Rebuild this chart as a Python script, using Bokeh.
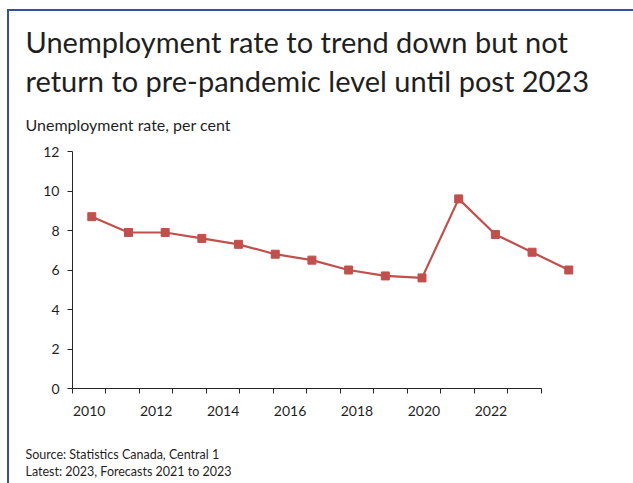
from bokeh.plotting import figure
from bokeh.models import Range1d, LinearAxis, FixedTicker, Title
from bokeh.embed import file_html
from bokeh.resources import INLINE

# Annual unemployment rate, per cent (2021-2023 are forecasts)
years = [2010, 2011, 2012, 2013, 2014, 2015, 2016, 2017, 2018, 2019, 2020, 2021, 2022, 2023]
rate = [8.7, 7.9, 7.9, 7.6, 7.3, 6.8, 6.5, 6.0, 5.7, 5.6, 9.6, 7.8, 6.9, 6.0]
tick_years = [2010, 2012, 2014, 2016, 2018, 2020, 2022]
y_ticks = [0, 2, 4, 6, 8, 10, 12]

title_lines = ["Unemployment rate to trend down but not",
               "return to pre-pandemic level until post 2023"]
y_title = "Unemployment rate, per cent"
notes = ["Source: Statistics Canada, Central 1",
         "Latest: 2023, Forecasts 2021 to 2023"]

FONT = "Lato"
TXT = "#1f1f1f"
RED = "#C0504D"
BLUE = "#2F5597"

W, H = 633, 483
FL, FR, FT, FB = 72, 600, 151, 388   # frame edges on the canvas

p = figure(width=W, height=H, output_backend="svg", toolbar_location=None,
           x_range=Range1d(2009.474, 2023.865), y_range=Range1d(0, 12),
           x_axis_location=None,
           min_border_left=FL, min_border_right=W - FR,
           min_border_top=FT, min_border_bottom=H - FB)
p.outline_line_color = None
p.grid.visible = False
p.background_fill_color = None
p.border_fill_color = None

# white panel with a blue rule along its top and left edges
p.styles = {
    "background-color": "white",
    "background-image": f"linear-gradient({BLUE}, {BLUE}), linear-gradient({BLUE}, {BLUE})",
    "background-size": "100% 2px, 2px 100%",
    "background-position": "7px 9px, 7px 9px",
    "background-repeat": "no-repeat",
}

# category-style year axis: boundaries as small ticks, labels centred in each slot
p.extra_x_ranges = {"cat": Range1d(0, 15.775)}
n = len(years)
xa = LinearAxis(x_range_name="cat")
xa.ticker = FixedTicker(ticks=[years.index(y) + 0.5 for y in tick_years],
                        minor_ticks=list(range(n + 1)))
xa.major_label_overrides = {years.index(y) + 0.5: str(y) for y in tick_years}
xa.bounds = (0, n)
xa.major_tick_line_color = None
xa.minor_tick_line_color = "#262626"
xa.minor_tick_out = 5
xa.minor_tick_in = 0
xa.axis_line_color = "#262626"
xa.major_label_text_font = FONT
xa.major_label_text_font_size = "14px"
xa.major_label_text_color = TXT
xa.major_label_standoff = 11

ya = p.yaxis[0]
ya.ticker = FixedTicker(ticks=y_ticks)
ya.minor_tick_line_color = None
ya.major_tick_out = 5
ya.major_tick_in = 0
ya.axis_line_color = "#262626"
ya.major_tick_line_color = "#262626"
ya.major_label_text_font = FONT
ya.major_label_text_font_size = "14px"
ya.major_label_text_color = TXT
ya.major_label_standoff = 8

p.line(years, rate, line_color=RED, line_width=2.2)
p.scatter(years, rate, marker="square", size=8, fill_color=RED, line_color=RED)

SPACER_AT = 15.6   # far right of the panel, clear of any text


def gap(h):
    # blank axis (one white tick, no label) that only reserves vertical space
    return LinearAxis(x_range_name="cat", ticker=FixedTicker(ticks=[SPACER_AT]),
                      major_label_overrides={SPACER_AT: ""},
                      major_label_text_color=None, major_label_standoff=0,
                      axis_line_color=None, major_tick_line_color="white",
                      minor_tick_line_color=None, major_tick_in=0, major_tick_out=h,
                      minor_tick_in=0, minor_tick_out=0)


def title(text, size, line_height):
    return Title(text=text, align="left", offset=25 - FL,
                 text_font=FONT, text_font_size=size, text_font_style="normal",
                 text_line_height=line_height, text_color=TXT, standoff=0)


# above the frame, listed from the frame outward
p.add_layout(gap(18), "above")
p.add_layout(title(y_title, "16px", 1.2), "above")
p.add_layout(gap(14), "above")
p.add_layout(title("\n".join(title_lines), "29px", 1.13), "above")

# below the frame, listed from the frame outward
p.add_layout(xa, "below")
p.add_layout(gap(27), "below")
p.add_layout(title("\n".join(notes), "12.5px", 1.14), "below")

open("out.html", "w").write(file_html(p, INLINE))
